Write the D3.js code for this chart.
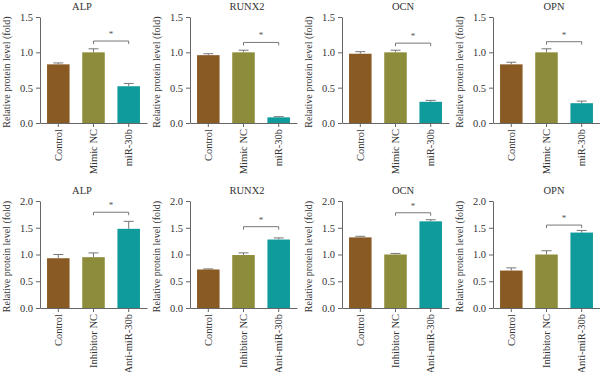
<!DOCTYPE html>
<html>
<head>
<meta charset="utf-8">
<script src="https://cdn.jsdelivr.net/npm/d3@7"></script>
<style>
  body { margin: 0; background: #fff; }
  svg { display: block; font-family: "Liberation Serif", "DejaVu Serif", serif; }
</style>
</head>
<body>
<svg id="chart" width="600" height="372"></svg>
<script>
const markers = ["ALP", "RUNX2", "OCN", "OPN"];

const topGroups = ["Control", "Mimic NC", "miR-30b"];
const topMeans = [[0.83, 1.00, 0.52], [0.96, 1.00, 0.08], [0.98, 1.00, 0.30], [0.83, 1.00, 0.28]];
const topErrors = [[0.02, 0.05, 0.04], [0.02, 0.03, 0.01], [0.03, 0.03, 0.02], [0.03, 0.05, 0.03]];
const topBrackets = [1.16, 1.14, 1.13, 1.15];
const topTicks = [0, 0.5, 1.0, 1.5];

const bottomGroups = ["Control", "Inhibitor NC", "Anti-miR-30b"];
const bottomMeans = [[0.93, 0.95, 1.48], [0.72, 0.99, 1.28], [1.32, 1.00, 1.62], [0.70, 1.00, 1.41]];
const bottomErrors = [[0.07, 0.08, 0.14], [0.01, 0.04, 0.03], [0.02, 0.02, 0.03], [0.05, 0.07, 0.04]];
const bottomBrackets = [1.79, 1.52, 1.78, 1.55];
const bottomTicks = [0, 0.5, 1.0, 1.5, 2.0];

const barColors = ["#8a5a25", "#8d8c3a", "#0f9a9c"];

// layout
const axisX = [40, 190, 342, 493];
const titleDx = [42, 57, 61, 61];
const plotW = 107;
const rows = [
  {groups: topGroups, means: topMeans, errors: topErrors, brackets: topBrackets, ticks: topTicks, y0: 17, y1: 123, titleY: 10},
  {groups: bottomGroups, means: bottomMeans, errors: bottomErrors, brackets: bottomBrackets, ticks: bottomTicks, y0: 201, y1: 308, titleY: 194}
];

const svg = d3.select("#chart");
const serif = "Liberation Serif";

rows.forEach(row => {
  const yMax = row.ticks[row.ticks.length - 1];
  markers.forEach((name, p) => {
    const g = svg.append("g").attr("transform", `translate(${axisX[p]},0)`);

    const x = d3.scaleBand().domain(row.groups).range([0, plotW]).paddingInner(0.36).paddingOuter(0.2);
    const y = d3.scaleLinear().domain([0, yMax]).range([row.y1, row.y0]);

    // title
    g.append("text")
      .attr("x", titleDx[p]).attr("y", row.titleY)
      .attr("text-anchor", "middle")
      .attr("font-size", 10.5).attr("fill", "#333")
      .text(name);

    // y label
    g.append("text")
      .attr("transform", `translate(-30,${(row.y0 + row.y1) / 2 + 2}) rotate(-90)`)
      .attr("text-anchor", "middle")
      .attr("font-size", 10).attr("fill", "#333")
      .text("Relative protein level (fold)");

    // bars with upper error bars
    row.groups.forEach((grp, i) => {
      const v = row.means[p][i], e = row.errors[p][i];
      const cx = x(grp) + x.bandwidth() / 2;
      g.append("line")
        .attr("x1", cx).attr("x2", cx)
        .attr("y1", y(v)).attr("y2", y(v + e))
        .attr("stroke", "#777").attr("stroke-width", 1);
      g.append("line")
        .attr("x1", cx - 5).attr("x2", cx + 5)
        .attr("y1", y(v + e)).attr("y2", y(v + e))
        .attr("stroke", "#777").attr("stroke-width", 1);
      g.append("rect")
        .attr("x", x(grp)).attr("width", x.bandwidth())
        .attr("y", y(v)).attr("height", y(0) - y(v))
        .attr("fill", barColors[i]);
    });

    // significance bracket
    const xa = x(row.groups[1]) + x.bandwidth() / 2;
    const xb = x(row.groups[2]) + x.bandwidth() / 2;
    const yb = y(row.brackets[p]);
    g.append("path")
      .attr("d", `M${xa},${yb + 3}V${yb}H${xb}V${yb + 3}`)
      .attr("fill", "none").attr("stroke", "#777").attr("stroke-width", 1);
    g.append("text")
      .attr("x", (xa + xb) / 2).attr("y", yb - 4)
      .attr("text-anchor", "middle")
      .attr("font-size", 9).attr("fill", "#555")
      .text("*");

    // axes
    const yAxis = g.append("g")
      .call(d3.axisLeft(y).tickValues(row.ticks).tickFormat(d3.format(".1f")).tickSize(4).tickSizeOuter(0));
    yAxis.attr("font-family", serif);
    yAxis.selectAll("text").attr("font-size", 10.5).attr("fill", "#333");
    yAxis.selectAll("path, line").attr("stroke", "#666");

    const xAxis = g.append("g")
      .attr("transform", `translate(0,${row.y1})`)
      .call(d3.axisBottom(x).tickSize(4).tickSizeOuter(0));
    xAxis.attr("font-family", serif);
    xAxis.selectAll("path, line").attr("stroke", "#666");
    xAxis.selectAll("text")
      .attr("font-size", 10.5).attr("fill", "#333")
      .attr("transform", "rotate(-90)")
      .attr("text-anchor", "end")
      .attr("x", -6).attr("y", 0).attr("dy", "0.35em");
  });
});
</script>
</body>
</html>
